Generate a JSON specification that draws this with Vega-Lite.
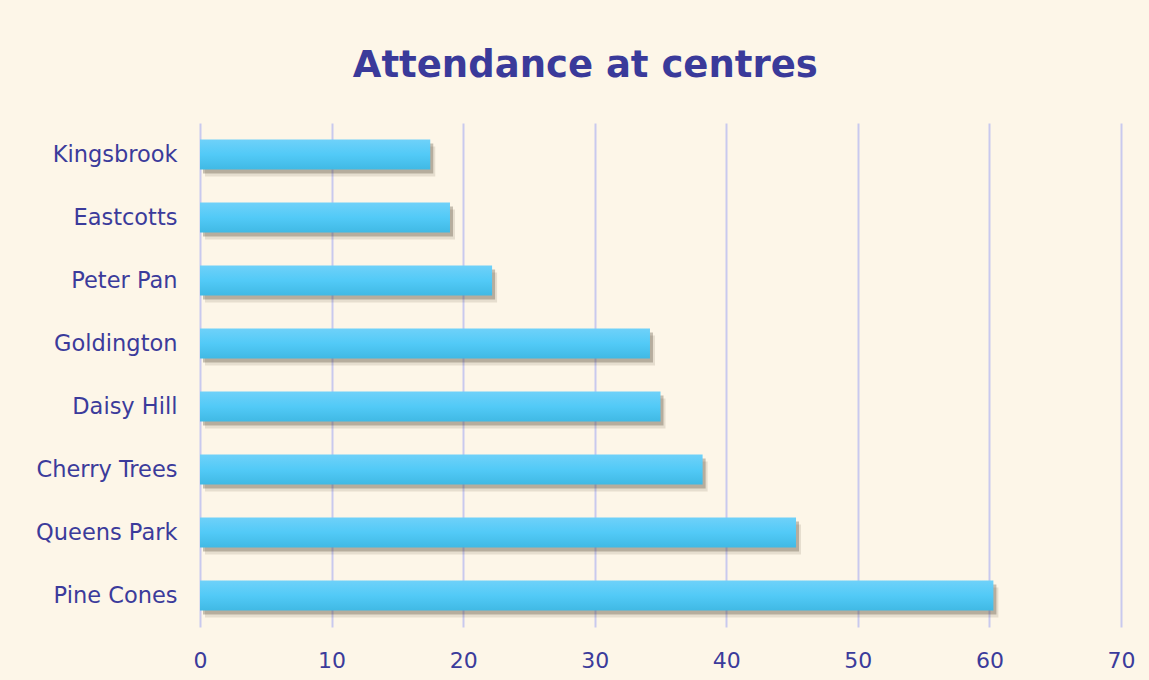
{
  "$schema": "https://vega.github.io/schema/vega-lite/v6.json",
  "autosize": {"type": "fit", "contains": "padding"},
  "width": 1149,
  "height": 680,
  "background": "#fdf6e8",
  "padding": {"left": 35, "right": 14, "top": 47, "bottom": 9},
  "title": {
    "text": "Attendance at centres",
    "font": "DejaVu Sans",
    "fontSize": 37,
    "fontWeight": "bold",
    "color": "#3a3a9a",
    "anchor": "middle",
    "frame": "bounds",
    "offset": 38
  },
  "data": {
    "values": [
      {"centre": "Kingsbrook", "attendance": 17.5},
      {"centre": "Eastcotts", "attendance": 19.0},
      {"centre": "Peter Pan", "attendance": 22.2},
      {"centre": "Goldington", "attendance": 34.2},
      {"centre": "Daisy Hill", "attendance": 35.0},
      {"centre": "Cherry Trees", "attendance": 38.2},
      {"centre": "Queens Park", "attendance": 45.3},
      {"centre": "Pine Cones", "attendance": 60.3}
    ]
  },
  "encoding": {
    "y": {
      "field": "centre",
      "type": "nominal",
      "sort": null,
      "title": null,
      "scale": {"paddingInner": 0.52, "paddingOuter": 0.26},
      "axis": {
        "ticks": false,
        "domain": false,
        "labelFont": "DejaVu Sans",
        "labelFontSize": 22.5,
        "labelColor": "#3b3b9b",
        "labelPadding": 23
      }
    },
    "x": {
      "field": "attendance",
      "type": "quantitative",
      "title": null,
      "scale": {"domain": [0, 70], "nice": false},
      "axis": {
        "values": [0, 10, 20, 30, 40, 50, 60, 70],
        "ticks": false,
        "domain": false,
        "grid": true,
        "gridColor": "#c9c9ee",
        "gridWidth": 2,
        "labelFlush": false,
        "labelFont": "DejaVu Sans",
        "labelFontSize": 22,
        "labelColor": "#3b3b9b",
        "labelPadding": 23
      }
    }
  },
  "layer": [
    {"mark": {"type": "bar", "color": "#4a3a2a", "opacity": 0.13, "xOffset": 5, "yOffset": 7}},
    {"mark": {"type": "bar", "color": "#4a3a2a", "opacity": 0.3, "xOffset": 3, "yOffset": 4}},
    {
      "mark": {
        "type": "bar",
        "color": {
          "gradient": "linear",
          "x1": 0, "y1": 0, "x2": 0, "y2": 1,
          "stops": [
            {"offset": 0, "color": "#6fd1f9"},
            {"offset": 0.5, "color": "#52caf7"},
            {"offset": 1, "color": "#40b9e4"}
          ]
        }
      }
    }
  ],
  "config": {"view": {"stroke": null}}
}
